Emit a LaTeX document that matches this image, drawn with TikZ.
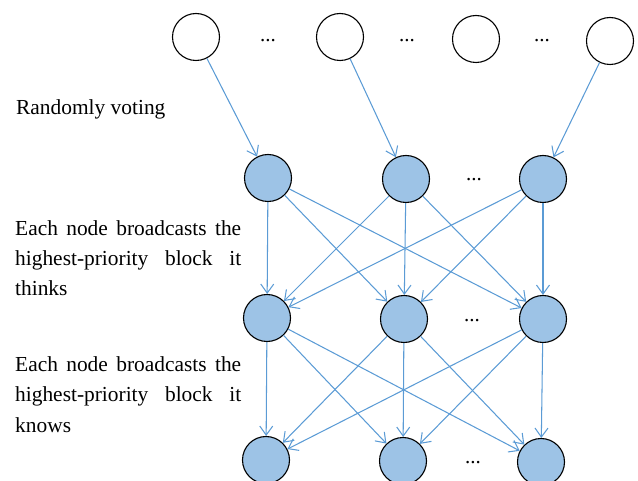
\documentclass[tikz,border=0pt]{standalone}
\usepackage{fontspec}
\setmainfont{Liberation Serif}
\usetikzlibrary{arrows.meta}
\definecolor{nodeblue}{RGB}{157,195,230}
\definecolor{edgeblue}{RGB}{91,155,213}
\begin{document}
\begin{tikzpicture}[x=1pt,y=-1pt,
  voter/.style={circle,draw=black,line width=1.1pt,fill=white,minimum size=47pt,inner sep=0pt},
  peer/.style={circle,draw=black,line width=1.1pt,fill=nodeblue,minimum size=47pt,inner sep=0pt},
  link/.style={draw=edgeblue,line width=1.05pt,-{Straight Barb[length=9pt,width=13pt]}},
  dotsnode/.style={font=\fontsize{21}{25}\selectfont,inner sep=0pt},
  lbl/.style={font=\fontsize{21.4}{30}\selectfont,inner sep=0pt,anchor=base west}]
\useasboundingbox (0,0) rectangle (638,481);
% top row
\node[voter] (t1) at (196,37) {};
\node[voter] (t2) at (340,37) {};
\node[voter] (t3) at (476,39) {};
\node[voter] (t4) at (610,41) {};
\node[dotsnode] (d1) at (268,41) {...};
\node[dotsnode] (d2) at (407,41) {...};
\node[dotsnode] (d3) at (542,41) {...};
% row 2
\node[peer] (a1) at (268,178) {};
\node[peer] (a2) at (406,179) {};
\node[peer] (a3) at (543,179) {};
\node[dotsnode] (da) at (474,180) {...};
% row 3
\node[peer] (b1) at (267,318) {};
\node[peer] (b2) at (404,319) {};
\node[peer] (b3) at (543,319) {};
\node[dotsnode] (db) at (472,321) {...};
% row 4
\node[peer] (c1) at (266,460) {};
\node[peer] (c2) at (403,461) {};
\node[peer] (c3) at (541,462) {};
\node[dotsnode] (dc) at (473,463) {...};
% votes
\draw[link] (t1) -- (a1);
\draw[link] (t2) -- (a2);
\draw[link] (t4) -- (a3);
% broadcasts
\foreach \s in {a1,a2,a3}{
  \foreach \t in {b1,b2,b3}{
    \draw[link] (\s) -- (\t);
  }
}
\foreach \s in {b1,b2,b3}{
  \foreach \t in {c1,c2,c3}{
    \draw[link] (\s) -- (\t);
  }
}
% labels
\node[lbl] (l0) at (16,115) {Randomly voting};
\node[lbl] (l1) at (15,236) {\makebox[226pt][s]{Each node broadcasts the}};
\node[lbl] (l2) at (15,266) {\makebox[226pt][s]{highest-priority block it}};
\node[lbl] (l3) at (15,296) {thinks};
\node[lbl] (l4) at (15,372) {\makebox[226pt][s]{Each node broadcasts the}};
\node[lbl] (l5) at (15,402) {\makebox[226pt][s]{highest-priority block it}};
\node[lbl] (l6) at (15,432) {knows};
\end{tikzpicture}
\end{document}
